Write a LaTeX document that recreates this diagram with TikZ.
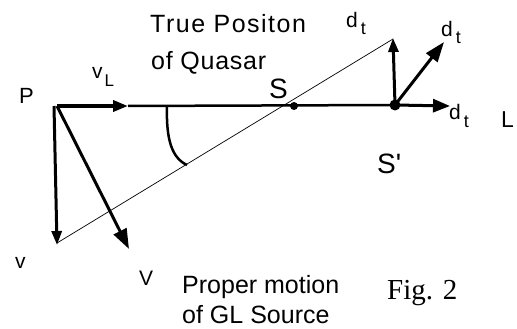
\documentclass[tikz,border=0pt]{standalone}
\usepackage{fontspec}
\setmainfont{Liberation Sans}
\newfontfamily\figserif{Liberation Serif}
\newfontfamily\titlefont[LetterSpace=6]{Liberation Sans}
\newfontfamily\titlefontb[LetterSpace=3]{Liberation Sans}
\usetikzlibrary{arrows.meta}
\newcommand\setfs[1]{\fontsize{#1}{#1}\selectfont}
\newcommand\dsub{d\hspace{3pt}\raisebox{-7pt}{\setfs{18}t}}
\begin{document}
\begin{tikzpicture}[x=1pt,y=-1pt,
  lbl/.style={inner sep=0pt, anchor=base west},
  smallarr/.style={line width=3pt, -{Triangle[length=14pt,width=10pt]}},
  bigarr/.style={line width=3pt, -{Triangle[length=20pt,width=14pt]}},
  midarr/.style={line width=3pt, -{Triangle[length=17pt,width=13pt]}},
  mainline/.style={line width=2.5pt},
  thinline/.style={line width=0.7pt},
  dotnode/.style={circle, fill=black, inner sep=0pt}]
\useasboundingbox (0,0) rectangle (517,329);

% points
\coordinate (P) at (57,106);
\coordinate (vLtip) at (128,106);
\coordinate (Pv) at (54,106);
\coordinate (vtip) at (57,245);
\coordinate (Vtip) at (129,249);
\coordinate (qtop) at (393,39);
\coordinate (qbot) at (57,243);
\coordinate (arcA) at (167,106);
\coordinate (arcB) at (187,165);
\node[dotnode, minimum size=8pt] (S) at (294,106) {};
\node[dotnode, minimum size=11pt] (Sp) at (395,105) {};
\coordinate (dup) at (393,38);
\coordinate (ddiag) at (444,42);
\coordinate (dright) at (450,106);

% lines
\draw[thinline] (qbot) -- (qtop);
\draw[mainline] (vLtip) -- (Sp.center);
\draw[line width=3.5pt, -{Triangle[length=15pt,width=11pt]}] (P) -- (vLtip);
\draw[smallarr] (Pv) -- (vtip);
\draw[bigarr] (P) -- (Vtip);
\draw[mainline] (arcA) .. controls (166,140) and (172,158) .. (arcB);
\draw[smallarr] (Sp.center) -- (dup);
\draw[bigarr] (Sp.center) -- (ddiag);
\draw[midarr] (Sp.center) -- (dright);

% labels
\node[lbl, font=\titlefont\setfs{25}] (t1) at (150,33) {True Positon};
\node[lbl, font=\titlefontb\setfs{25}] (t2) at (151,70) {of Quasar};
\node[lbl, font=\setfs{22}] (Plab) at (19,103) {P};
\node[lbl, font=\setfs{21}] (vLlab) at (92,78) {v\hspace{2pt}\raisebox{-8pt}{\setfs{17}L}};
\node[lbl, font=\setfs{28}] (Slab) at (269,99) {S};
\node[lbl, font=\setfs{28}] (Splab) at (377,173) {S\textquotesingle};
\node[lbl, font=\setfs{21}] (d1) at (346,28) {\dsub};
\node[lbl, font=\setfs{21}] (d2) at (441,37) {\dsub};
\node[lbl, font=\setfs{21}] (d3) at (449,120) {\dsub};
\node[lbl, font=\setfs{23}] (Llab) at (501,127) {L};
\node[lbl, font=\setfs{21}] (vlab) at (15,268) {v};
\node[lbl, font=\setfs{21}] (Vlab) at (139,285) {V};
\node[lbl, font=\setfs{25}] (pm1) at (182,293) {Proper motion};
\node[lbl, font=\setfs{25}] (pm2) at (182,323) {of GL Source};
\node[lbl, font=\figserif\setfs{29}] (fig) at (387,299) {Fig. 2};
\end{tikzpicture}
\end{document}
